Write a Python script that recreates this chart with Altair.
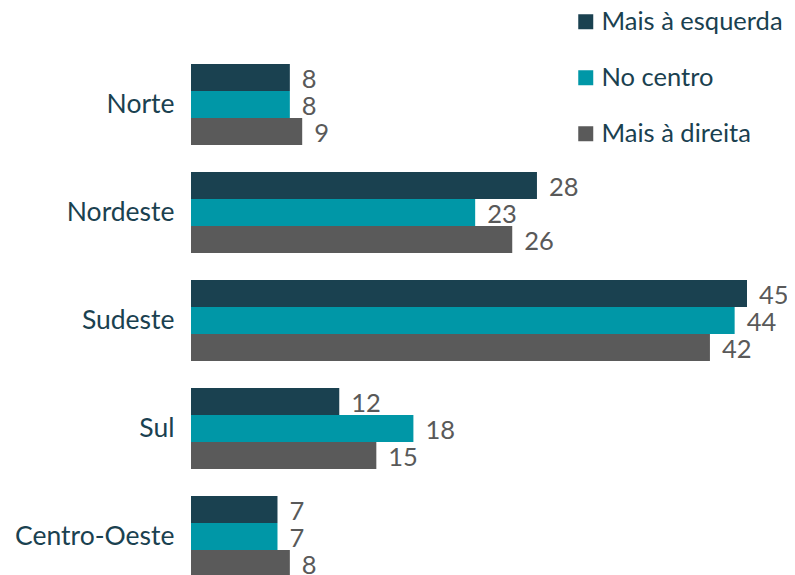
import altair as alt
import pandas as pd

regions = ["Norte", "Nordeste", "Sudeste", "Sul", "Centro-Oeste"]
series = ["Mais à esquerda", "No centro", "Mais à direita"]
esquerda = [8, 28, 45, 12, 7]
centro = [8, 23, 44, 18, 7]
direita = [9, 26, 42, 15, 8]
colors = ["#1a4150", "#0097a7", "#5a5a5a"]

rows = []
for vals, s in zip([esquerda, centro, direita], series):
    for r, v in zip(regions, vals):
        rows.append({"regiao": r, "serie": s, "valor": v})
df = pd.DataFrame(rows)

FONT = "Lato"

y = alt.Y("regiao:N", sort=regions,
          scale=alt.Scale(range=[42.5, 582.5], paddingInner=0.25, paddingOuter=0.125),
          axis=alt.Axis(title=None, domain=False, ticks=False, labelFontSize=26.5,
                        labelColor="#1a4150", labelFont=FONT, labelPadding=17))
x = alt.X("valor:Q", scale=alt.Scale(domain=[0, 45], nice=False), axis=None)
yoff = alt.YOffset("serie:N", sort=series, scale=alt.Scale(paddingInner=0, paddingOuter=0))

bars = alt.Chart(df).mark_bar(size=27).encode(
    y=y, x=x, yOffset=yoff,
    color=alt.Color("serie:N", sort=series,
                    scale=alt.Scale(domain=series, range=colors),
                    legend=alt.Legend(title=None, orient="none", legendX=382, legendY=1,
                                      symbolType="square", symbolSize=225,
                                      symbolStrokeWidth=0, labelFontSize=25.5,
                                      labelFont=FONT, labelColor="#1a4150",
                                      labelOffset=3, rowPadding=29,
                                      labelLimit=300)),
)

labels = alt.Chart(df).mark_text(align="left", baseline="middle", dx=12, dy=2,
                                 fontSize=25.5, font=FONT, color="#595959").encode(
    y=y, x=x, yOffset=yoff, text="valor:Q"
)

chart = alt.layer(bars, labels).properties(
    width=556, height=567,
    background="white",
    autosize=alt.AutoSizeParams(type="none"),
    padding={"left": 183, "top": 0, "right": 40, "bottom": 0},
).configure_view(strokeWidth=0, stroke="transparent")

chart.save("out.html", embed_options={"renderer": "svg", "actions": False})
